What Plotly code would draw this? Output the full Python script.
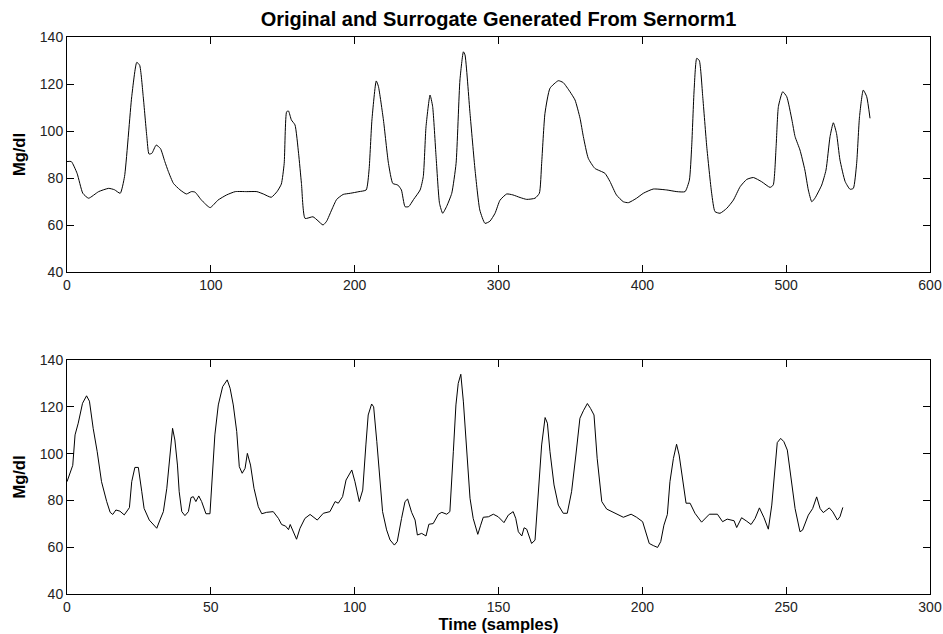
import plotly.graph_objects as go
from plotly.subplots import make_subplots

# ---- data ----
orig_x = [0, 3, 7, 11, 15, 22, 29, 33, 37, 40, 45, 48.5, 50.5, 53, 55.5, 57, 59, 62, 65, 68,
          70.5, 74, 78.5, 83, 86.5, 89, 93.5, 99.5, 105, 111, 117, 125, 132, 136.5, 142, 146,
          149, 151, 152.7, 154, 156, 158.5, 161, 163, 165.5, 171, 174.5, 178, 180.5, 184, 187.5,
          192, 197, 203, 208, 210, 212, 215, 216.5, 220, 223.5, 226.5, 230, 232.5, 235, 237.5,
          241, 245.5, 247.7, 249.6, 252.4, 254.2, 256.6, 259, 261.2, 264, 267.5, 270.5, 273.2,
          275.6, 276.7, 280.2, 283.7, 287, 290.6, 294, 297.6, 301, 305.7, 310, 315, 319.6, 325.4,
          328.4, 330, 332.3, 335.8, 341.6, 345, 349.7, 353.2, 356.7, 359, 362.4, 367, 374, 377.5,
          382, 386.8, 390.3, 396, 400.7, 407.6, 417, 424, 429.7, 432.7, 434.3, 436, 437.8, 439.6,
          442, 444.8, 448.2, 450.5, 454, 458.7, 463.3, 468, 472.6, 477.2, 483, 488.8, 491, 493,
          494.6, 497.6, 500.4, 504, 506.2, 509.6, 513, 515.4, 517.8, 520, 524.7, 527.7, 530.5,
          532.8, 535, 537.4, 541, 544.4, 546.7, 549, 551, 553.6, 556, 558.3]
orig_y = [87, 87, 82, 73.5, 71.4, 74.2, 75.6, 75, 73.5, 80.6, 114.6, 129.2, 128, 114.6, 97.6, 90.2,
          90.5, 94, 92.5, 87, 82.7, 77.7, 75, 73.2, 74.2, 74, 70.6, 67.4, 70.6, 72.8, 74.2, 74.2,
          74.2, 73.2, 71.8, 74.2, 77.4, 86.2, 108.2, 108.5, 104.7, 102.6, 90.5, 77.7, 62.8, 63.5,
          61.8, 60, 61.6, 66.4, 70.9, 73, 73.5, 74.2, 74.9, 83.4, 104.7, 121.3, 119, 104.7, 86.2,
          77.7, 77, 74.9, 67.8, 67.8, 70.9, 74.9, 80.6, 101.8, 115.3, 110.5, 89.1, 69.2, 65, 68,
          73.5, 86.2, 121.7, 133.7, 132.4, 107.5, 83.4, 66.4, 60.7, 61.6, 65, 70.5, 73.2, 72.8,
          71.7, 70.9, 71.4, 73.5, 86.2, 107.5, 118.2, 121.4, 120.6, 116.7, 113.2, 105.4, 97.6,
          88.4, 84.1, 82, 78.5, 72.8, 69.9, 69.5, 71.4, 73.5, 75.3, 74.9, 74.2, 74.2, 79.1, 93.3,
          117.4, 130.9, 130, 114.6, 93.3, 73.5, 65.7, 65, 67.1, 70.6, 76.3, 79.4, 80.2, 78.4, 76,
          77, 93.3, 110.4, 116.7, 114.6, 104.7, 97.6, 91.9, 83.4, 74.9, 69.9, 71.4, 77, 83.4,
          97.6, 103.5, 99, 87.7, 78.5, 75.2, 75.6, 86.2, 106.1, 117.4, 114.6, 105.4]

surr_x = [0, 2, 2.8, 3.9, 5.4, 6.8, 7.8, 9.1, 10.5, 12, 13.8, 15, 15.9, 17, 18.4, 19.9, 21.7, 22.5,
          23.6, 24.8, 26, 26.8, 28.6, 30, 31.2, 32.3, 33.5, 34.7, 35.8, 36.7, 37.5, 38.4, 39, 39.9,
          41, 42.2, 43.1, 43.9, 44.8, 45.8, 46.8, 48.3, 49.7, 50.6, 51.4, 52.6, 54.1, 55.7, 56.7,
          57.8, 59, 59.9, 60.9, 61.9, 62.7, 63.8, 65, 66.5, 67.7, 69.4, 71.7, 73.5, 74.6, 76, 77,
          77.6, 78.3, 79.8, 81, 82.7, 84.5, 85.7, 87, 89.1, 91.4, 93.2, 94.3, 95.8, 97, 99, 100.1,
          101.6, 102.8, 103.9, 104.7, 105.9, 106.6, 107.7, 108.8, 109.7, 111.1, 112.3, 113.8, 114.8,
          116.3, 117.5, 118.4, 119.8, 121, 121.8, 123.3, 124.8, 125.8, 127.3, 129.1, 130.3, 132,
          133.1, 134.3, 135.2, 136, 136.9, 137.8, 138.9, 140.1, 141.2, 142.8, 143.8, 144.7, 146.5,
          148.2, 149.9, 151.9, 153.4, 155.1, 156, 156.9, 158.1, 158.9, 159.8, 161.5, 162.7, 163.8,
          165, 166.2, 167, 167.9, 169.3, 170.8, 172.5, 173.9, 175.4, 176.9, 178.3, 179.5, 180.9,
          182, 183.2, 184.3, 185.9, 187.6, 189.9, 193.4, 196.1, 198, 200.1, 201.5, 202.4, 203.8,
          205.3, 206.4, 207.5, 208.7, 209.6, 210.8, 211.9, 212.8, 214, 215.2, 216.6, 218.3, 220.6,
          223.3, 226.1, 227.9, 229.5, 231.9, 232.8, 234.5, 236.3, 237.8, 239.2, 240.7, 242.3, 243.8,
          245, 246.1, 246.9, 248.1, 249.2, 250.4, 251.6, 253.1, 254.8, 255.7, 257.7, 259.2, 260.6,
          261.8, 262.9, 265, 266.2, 267.8, 268.7, 269.7]
surr_y = [88, 95, 108, 113, 121.5, 124.7, 122.4, 110.8, 100.8, 88, 79.5, 74.9, 74, 75.9, 75.4, 73.8,
          76.9, 88, 94.1, 94.1, 83.7, 76.6, 71.6, 69.7, 68.1, 71.6, 75.2, 85.2, 100.8, 110.8, 105.8,
          95.1, 83.7, 75.2, 73.5, 75.2, 81.2, 81.6, 79.5, 81.9, 79.5, 74.3, 74.3, 90.9, 108, 120.8,
          128.6, 131.5, 127.9, 120.8, 109.4, 94.4, 91.6, 93.7, 100.1, 95.1, 85.2, 77.3, 74.3, 74.9,
          75.2, 72.3, 69.7, 69, 67.5, 69.7, 67.8, 63.4, 68.1, 72.3, 74, 73, 71.6, 74.5, 75.2, 79.5,
          78.8, 81.6, 88.7, 93, 88, 79.5, 84.4, 103.7, 116.5, 121.2, 120, 105.1, 88, 75.2, 67.4,
          63.1, 60.9, 62.4, 72.3, 79.5, 80.6, 74.9, 71.6, 65.2, 65.9, 64.8, 69.8, 70.1, 74.1, 74.9,
          74.1, 75.2, 100.8, 120.8, 130, 133.9, 122.1, 100.8, 80.9, 72.3, 65.5, 69.4, 72.8, 73,
          74.1, 73, 70.5, 73.7, 75.2, 72.3, 66.6, 64.8, 68.3, 67.7, 61.6, 63, 82.2, 103.7, 115.4,
          113, 100.8, 86.6, 78, 74.5, 74.5, 83.7, 99.4, 115.1, 118.3, 121.4, 119.3, 116.5, 98, 79.5,
          76.3, 74.8, 72.8, 74.1, 72.8, 70.9, 65.5, 61.6, 60.7, 59.9, 62.4, 69.4, 74, 88, 97.9, 104,
          99.4, 88, 78.8, 78.8, 74.5, 70.7, 74.1, 74.1, 70.9, 72, 71.3, 68.4, 72.6, 71.1, 69.7,
          72.3, 76.8, 72.6, 67.7, 78, 95.1, 104.7, 106.5, 105.1, 101.5, 90.1, 76.5, 66.6, 67.3,
          73.7, 76.5, 81.5, 76.5, 74.8, 76.8, 75.1, 71.6, 73, 77]

y_ticks = [40, 60, 80, 100, 120, 140]
top_x_ticks = [0, 100, 200, 300, 400, 500, 600]
bot_x_ticks = [0, 50, 100, 150, 200, 250, 300]

title_text = "Original and Surrogate Generated From Sernorm1"

FONT = "Liberation Sans, Arial, Helvetica, sans-serif"

fig = make_subplots(rows=2, cols=1)
fig.add_trace(go.Scatter(x=orig_x, y=orig_y, mode="lines",
                         line=dict(color="black", width=1, shape="spline", smoothing=0.5),
                         showlegend=False, hoverinfo="x+y"), row=1, col=1)
fig.add_trace(go.Scatter(x=surr_x, y=surr_y, mode="lines",
                         line=dict(color="black", width=1),
                         showlegend=False, hoverinfo="x+y"), row=2, col=1)

axis_common = dict(showline=True, linecolor="black", linewidth=1, mirror="ticks",
                   ticks="inside", ticklen=7, tickwidth=1, tickcolor="black",
                   showgrid=False, zeroline=False, automargin=False,
                   tickfont=dict(family=FONT, size=14, color="#222"))

label_font = dict(family=FONT, size=16.5, color="black")

fig.update_layout(
    width=943, height=634,
    margin=dict(l=67, r=13, t=37, b=40),
    paper_bgcolor="white", plot_bgcolor="white",
    font=dict(family=FONT, color="black"),
    title=dict(text="<b>" + title_text + "</b>", x=(67 + 930) / 2 / 943, xanchor="center",
               y=1 - 19 / 634, yanchor="middle", yref="container",
               font=dict(family=FONT, size=20, color="black")),
    xaxis=dict(domain=[0, 1], range=[0, 600], tickvals=top_x_ticks, anchor="y", **axis_common),
    yaxis=dict(domain=[(594 - 272) / 557, 1], range=[40, 140], tickvals=y_ticks, anchor="x",
               title=dict(text="<b>Mg/dl</b>", font=label_font, standoff=10),
               **axis_common),
    xaxis2=dict(domain=[0, 1], range=[0, 300], tickvals=bot_x_ticks, anchor="y2",
                title=dict(text="<b>Time (samples)</b>", font=label_font, standoff=4),
                **axis_common),
    yaxis2=dict(domain=[0, (594 - 360) / 557], range=[40, 140], tickvals=y_ticks, anchor="x2",
                title=dict(text="<b>Mg/dl</b>", font=label_font, standoff=10),
                **axis_common),
)

fig.write_html("out.html")
